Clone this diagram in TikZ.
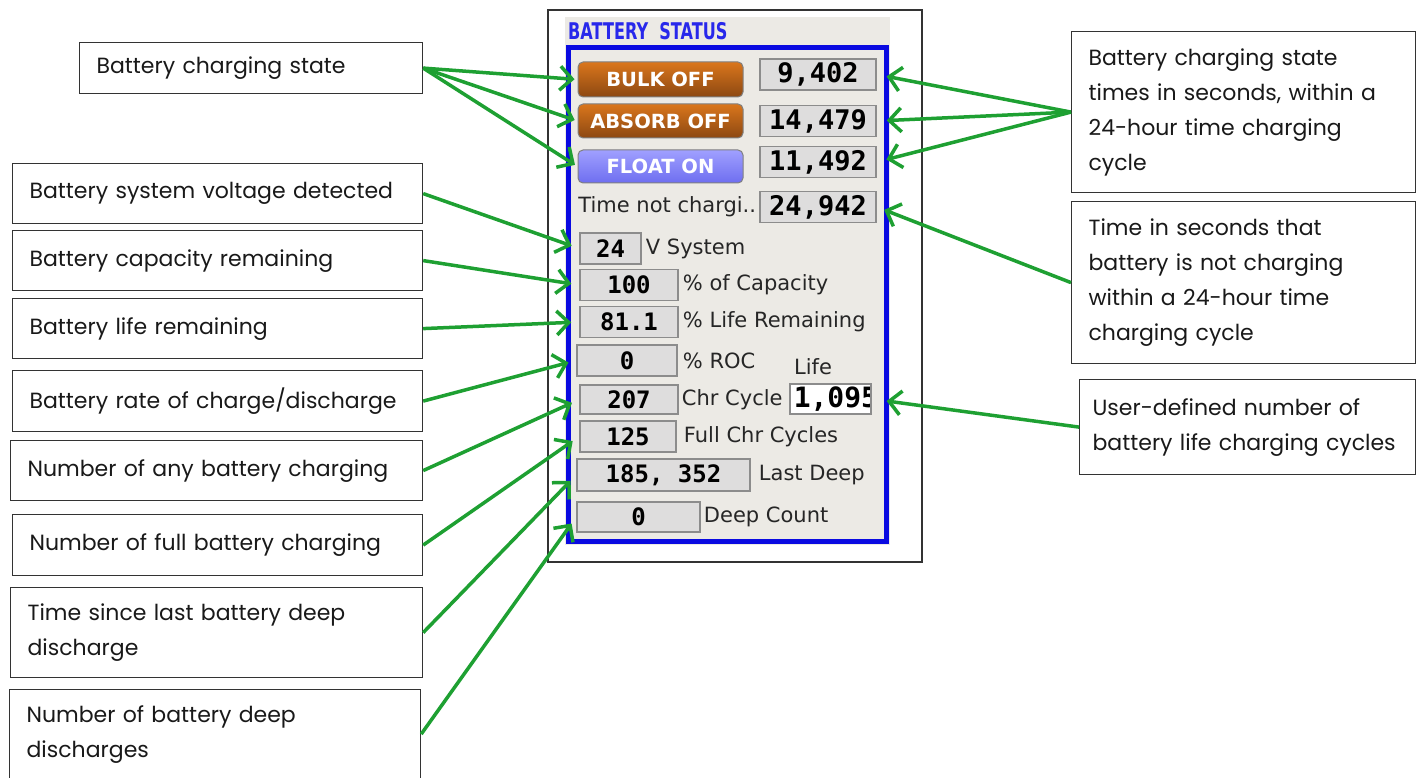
\documentclass[tikz,border=0pt]{standalone}
\usepackage{fontspec}
\setmainfont{Poppins}
\newfontfamily\uifont{DejaVu Sans}
\newfontfamily\numfont{DejaVu Sans Mono}
\newfontfamily\titlefont{DejaVu Sans}[FakeStretch=0.7]
\usepackage{tikz}
\usetikzlibrary{arrows.meta,positioning}
\definecolor{arrowgreen}{RGB}{30,160,50}
\definecolor{panelgrey}{RGB}{236,234,229}
\definecolor{frameblue}{RGB}{10,10,225}
\definecolor{titleblue}{RGB}{40,40,235}
\definecolor{valgrey}{RGB}{222,221,221}
\definecolor{btntop}{RGB}{218,118,28}
\definecolor{btnbot}{RGB}{140,72,18}
\definecolor{floattop}{RGB}{160,160,255}
\definecolor{floatbot}{RGB}{110,110,240}

\begin{document}
\begin{tikzpicture}[x=1pt,y=-1pt,
lbl/.style={
	draw=black!80, line width=1.2pt, fill=white,
	anchor=north west, align=left, text width=#1,
	inner xsep=17pt, inner ysep=0pt, text=black!90,
	font=\fontsize{22}{35}\selectfont
},
btn/.style={
	draw=black!50, line width=1pt, rounded corners=5pt,
	minimum width=165pt, inner sep=0pt, text=white,
	font=\uifont\bfseries\fontsize{19.5}{19.5}\selectfont
},
bulkbtn/.style={btn, top color=btntop, bottom color=btnbot},
floatbtn/.style={btn, top color=floattop, bottom color=floatbot},
val/.style={
	draw=black!45, line width=1.5pt, fill=valgrey, inner sep=0pt,
	minimum width=116pt, minimum height=31pt,
	font=\numfont\bfseries\fontsize{27}{27}\selectfont
},
smallval/.style={val, minimum width=98pt,
	font=\numfont\bfseries\fontsize{24}{24}\selectfont},
uitext/.style={inner sep=0pt, text=black!85,
	font=\uifont\fontsize{21}{21}\selectfont},
arr/.style={draw=arrowgreen, line width=3.5pt,
	-{Straight Barb[length=12pt,width=24pt]}}
]
\useasboundingbox (0,0) rectangle (1416,778);

% screenshot of the status panel
\node (shot) [draw=black!80, line width=1.2pt, fill=white, inner sep=0pt,
	minimum width=374pt, minimum height=552pt] at (735,286) {};
\fill[panelgrey] (565,17) rectangle (890,545);
\node (frame) [draw=frameblue, line width=5pt, inner sep=0pt,
	minimum width=318pt, minimum height=494pt] at (727.5,294.5) {};
\node (title) [anchor=west, inner sep=0pt, text=titleblue,
	font=\titlefont\bfseries\fontsize{23}{23}\selectfont] at (568,31) {BATTERY\ \ STATUS};

\node (bulk) [bulkbtn, minimum height=35pt] at (660.5,79.5) {BULK OFF};
\node (absorb) [bulkbtn, minimum height=34pt] at (660.5,121) {ABSORB OFF};
\node (float) [floatbtn, minimum height=33pt] at (660.5,166.5) {FLOAT ON};

\node (t1) [val] at (818,74.5) {9,402};
\node (t2) [val] at (818,121) {14,479};
\node (t3) [val] at (818,162) {11,492};
\node (t4) [val] at (818,207) {24,942};
\node [uitext, left=3pt of t4] {Time not chargi..};

\node (sysv) [smallval, minimum width=61pt] at (610.5,248.5) {24};
\node [uitext, right=4pt of sysv] {V System};
\node (capv) [smallval] at (629,285) {100};
\node [uitext, right=4pt of capv] {\% of Capacity};
\node (lifev) [smallval] at (629,322) {81.1};
\node [uitext, right=4pt of lifev] {\% Life Remaining};
\node (rocv) [smallval, minimum width=100pt] at (627,360.5) {0};
\node [uitext, right=5pt of rocv] {\% ROC};
\node (chrv) [smallval, minimum height=29pt] at (629,399.5) {207};
\node [uitext, right=3pt of chrv] {Chr Cycle};
\node (lifelbl) [uitext] at (813,367) {Life};
\node (lifeval) [val, fill=white, minimum width=81pt, minimum height=30pt,
	path picture={\node[anchor=west, inner sep=0pt,
		font=\numfont\bfseries\fontsize{28}{28}\selectfont]
		at ([xshift=3pt]path picture bounding box.west) {1,095};}] at (830.5,399) {};
\node (fullv) [smallval, minimum width=96pt] at (628,436.5) {125};
\node [uitext, right=7pt of fullv] {Full Chr Cycles};
\node (lastv) [smallval, minimum width=173pt, minimum height=32pt] at (663.5,475) {185, 352};
\node [uitext, right=8pt of lastv] {Last Deep};
\node (deepv) [smallval, minimum width=123pt, minimum height=30pt] at (638.5,517) {0};
\node [uitext, right=3pt of deepv] {Deep Count};

% labels on the left
\node (state) [lbl=309pt, minimum height=51pt] at (79,42) {Battery charging state};
\node (volt) [lbl=376pt, minimum height=60pt] at (12,163) {Battery system voltage detected};
\node (capacity) [lbl=376pt, minimum height=60pt] at (12,230) {Battery capacity remaining};
\node (liferem) [lbl=376pt, minimum height=60pt] at (12,298) {Battery life remaining};
\node (rate) [lbl=376pt, minimum height=61pt] at (12,370) {Battery rate of charge/discharge};
\node (anychg) [lbl=378pt, minimum height=60pt] at (10,440) {Number of any battery charging};
\node (fullchg) [lbl=376pt, minimum height=61pt] at (12,514) {Number of full battery charging};
\node (lastdeep) [lbl=378pt, minimum height=90pt] at (10,587) {Time since last battery deep\\discharge};
\node (deepcnt) [lbl=377pt, minimum height=89pt] at (9,689) {Number of battery deep\\discharges};

% labels on the right
\node (stimes) [lbl=310pt, minimum height=161pt] at (1071,31)
	{Battery charging state\\times in seconds, within a\\24-hour time charging\\cycle};
\node (notchg) [lbl=310pt, minimum height=162pt] at (1071,201)
	{Time in seconds that\\battery is not charging\\within a 24-hour time\\charging cycle};
\node (userdef) [lbl=310pt, inner xsep=13pt, minimum height=95pt] at (1079,379)
	{User-defined number of\\battery life charging cycles};

% arrows
\foreach \b in {bulk,absorb,float}
	\draw[arr, shorten >=3pt] (state.east) -- (\b.west);
\foreach \l/\v in {volt/sysv, capacity/capv, liferem/lifev, rate/rocv,
	anychg/chrv, fullchg/fullv, lastdeep/lastv, deepcnt/deepv}
	\draw[arr, shorten >=8pt] (\l.east) -- (\v.west);
\foreach \v in {t1,t2,t3}
	\draw[arr, shorten >=10pt] (stimes.west) -- (\v.east);
\draw[arr, shorten >=8pt] (notchg.west) -- (t4.east);
\draw[arr, shorten >=15pt] (userdef.west) -- (lifeval.east);
\end{tikzpicture}
\end{document}
